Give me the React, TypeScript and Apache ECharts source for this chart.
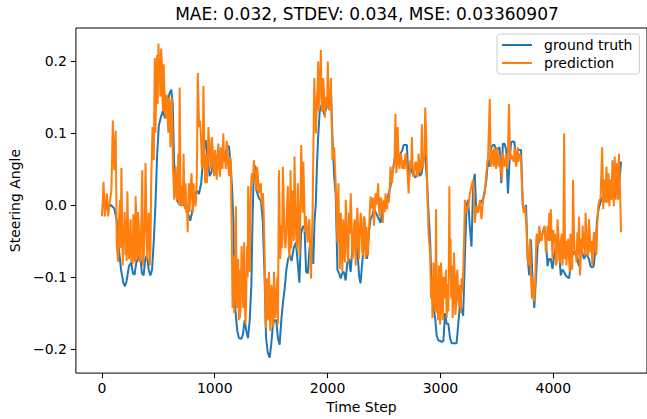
import React, { useEffect, useRef } from "react";
import * as echarts from "echarts";

const chartTitle = "MAE: 0.032, STDEV: 0.034, MSE: 0.03360907";
const xTicks = [0, 1000, 2000, 3000, 4000];
const yTicks = [-0.2, -0.1, 0.0, 0.1, 0.2];
const seriesNames = ["ground truth", "prediction"];

const groundTruth: number[][] = [
  [0,0.0],[40,-0.005],[80,0.0],[110,-0.005],[130,-0.02],[150,-0.06],[170,-0.09],[190,-0.108],[205,-0.113],[220,-0.105],
  [240,-0.085],[260,-0.08],[275,-0.095],[290,-0.097],[305,-0.08],[320,-0.075],[340,-0.07],[355,-0.095],[370,-0.098],[385,-0.075],
  [400,-0.07],[415,-0.09],[430,-0.098],[445,-0.09],[460,-0.05],[475,0.0],[490,0.07],[505,0.11],[520,0.12],[540,0.13],
  [560,0.12],[580,0.14],[600,0.155],[615,0.16],[628,0.14],[640,0.06],[655,0.02],[670,0.005],[690,0.0],[710,0.0],
  [730,0.0],[750,-0.005],[770,-0.015],[783,-0.022],[800,-0.01],[820,0.01],[840,0.02],[860,0.015],[880,0.03],[900,0.07],
  [920,0.09],[940,0.06],[955,0.04],[970,0.045],[990,0.06],[1010,0.06],[1030,0.07],[1050,0.075],[1070,0.065],[1090,0.07],
  [1110,0.08],[1125,0.082],[1140,0.06],[1155,0.02],[1165,-0.02],[1175,-0.12],[1185,-0.15],[1200,-0.175],[1215,-0.185],[1235,-0.186],
  [1250,-0.18],[1265,-0.16],[1280,-0.175],[1295,-0.185],[1310,-0.16],[1325,-0.11],[1335,-0.02],[1345,0.04],[1355,0.055],[1370,0.02],
  [1390,0.01],[1410,0.005],[1425,-0.02],[1440,-0.09],[1455,-0.185],[1470,-0.205],[1487,-0.212],[1500,-0.195],[1516,-0.166],[1530,-0.16],
  [1545,-0.16],[1560,-0.185],[1575,-0.194],[1590,-0.16],[1605,-0.135],[1620,-0.116],[1635,-0.09],[1650,-0.075],[1665,-0.07],[1680,-0.078],
  [1700,-0.06],[1720,-0.052],[1735,-0.08],[1750,-0.108],[1765,-0.04],[1780,-0.03],[1795,-0.03],[1810,-0.093],[1825,-0.095],[1840,-0.06],
  [1853,-0.047],[1873,-0.082],[1885,-0.02],[1895,0.0],[1905,0.05],[1915,0.09],[1930,0.13],[1950,0.14],[1970,0.125],[1990,0.135],
  [2010,0.14],[2029,0.16],[2043,0.094],[2058,0.04],[2072,0.015],[2087,-0.09],[2102,-0.095],[2116,-0.102],[2130,-0.095],[2145,-0.093],
  [2160,-0.105],[2175,-0.08],[2190,-0.075],[2204,-0.093],[2220,-0.06],[2235,-0.03],[2250,-0.05],[2265,-0.065],[2280,-0.1],[2292,-0.109],
  [2307,-0.08],[2322,-0.052],[2336,-0.06],[2350,-0.075],[2365,-0.04],[2380,-0.02],[2395,-0.015],[2410,-0.006],[2425,-0.01],[2440,-0.015],
  [2455,-0.02],[2470,-0.025],[2483,-0.006],[2500,-0.005],[2520,0.003],[2542,0.016],[2557,0.025],[2571,0.04],[2585,0.055],[2600,0.07],
  [2620,0.07],[2640,0.07],[2660,0.075],[2674,0.083],[2690,0.083],[2703,0.083],[2718,0.03],[2733,0.055],[2750,0.045],[2762,0.04],
  [2780,0.038],[2795,0.045],[2806,0.053],[2820,0.04],[2835,0.045],[2850,0.07],[2864,0.07],[2880,0.035],[2894,-0.01],[2909,-0.052],
  [2923,-0.12],[2940,-0.145],[2953,-0.157],[2967,-0.182],[2982,-0.188],[2997,-0.189],[3012,-0.19],[3026,-0.189],[3041,-0.15],[3055,-0.165],
  [3070,-0.165],[3085,-0.185],[3099,-0.192],[3120,-0.192],[3143,-0.192],[3158,-0.165],[3172,-0.139],[3187,-0.145],[3201,-0.154],[3216,-0.075],
  [3231,0.0],[3245,0.007],[3260,-0.03],[3275,-0.058],[3290,0.03],[3304,0.043],[3318,-0.01],[3333,-0.005],[3348,0.0],[3363,0.005],
  [3377,0.007],[3392,0.02],[3407,0.035],[3421,0.062],[3436,0.053],[3451,0.08],[3465,0.083],[3480,0.083],[3495,0.072],[3510,0.078],
  [3524,0.08],[3539,0.03],[3553,0.085],[3568,0.085],[3583,0.076],[3598,0.016],[3612,0.06],[3626,0.087],[3641,0.088],[3656,0.087],
  [3670,0.058],[3685,0.076],[3700,0.076],[3714,0.076],[3729,0.0],[3743,-0.01],[3758,0.0],[3773,-0.075],[3787,-0.098],[3802,-0.048],
  [3817,-0.111],[3831,-0.143],[3846,-0.102],[3861,-0.057],[3875,-0.05],[3890,-0.043],[3905,-0.04],[3920,-0.03],[3934,-0.048],[3949,-0.085],
  [3963,-0.075],[3978,-0.075],[3993,-0.089],[4007,-0.07],[4022,-0.06],[4037,-0.065],[4051,-0.065],[4066,-0.098],[4080,-0.09],[4095,-0.093],
  [4110,-0.098],[4124,-0.1],[4139,-0.102],[4154,-0.085],[4168,-0.07],[4183,-0.065],[4198,-0.065],[4212,-0.075],[4227,-0.085],[4241,-0.057],
  [4256,-0.065],[4271,-0.075],[4286,-0.07],[4300,-0.07],[4315,-0.075],[4329,-0.085],[4344,-0.087],[4358,-0.085],[4373,-0.06],[4388,-0.02],
  [4402,-0.005],[4417,0.003],[4432,0.01],[4446,0.008],[4461,0.01],[4476,0.012],[4490,0.01],[4505,0.012],[4520,0.01],[4534,0.012],
  [4549,0.015],[4563,0.015],[4578,0.025],[4590,0.04],[4600,0.06],
];

// prediction: spikes and envelope points
const predictionPeaks: number[][] = [
  [0,-0.016],[6,-0.002],[15,0.032],[26,-0.016],[44,0.016],[56,-0.016],[67,0.0],[85,0.021],[97,0.117],[109,0.048],
  [123,0.103],[132,-0.057],[144,-0.079],[161,0.007],[173,0.051],[185,-0.084],[196,-0.052],[208,-0.07],[226,0.019],[240,-0.075],
  [249,-0.047],[261,-0.079],[279,-0.013],[290,-0.07],[299,0.012],[314,-0.075],[328,-0.029],[343,-0.075],[358,0.048],[372,-0.07],
  [387,0.058],[402,-0.075],[416,-0.011],[425,-0.084],[437,0.03],[449,0.108],[460,0.062],[469,0.204],[481,0.153],[490,0.208],
  [501,0.224],[513,0.185],[525,0.217],[537,0.149],[548,0.195],[560,0.131],[572,0.153],[584,0.117],[595,0.149],[607,0.08],
  [619,0.149],[630,0.053],[642,0.007],[654,0.053],[666,0.007],[677,0.071],[689,0.163],[701,-0.002],[713,0.026],[724,0.071],
  [736,-0.006],[748,-0.011],[760,-0.038],[771,0.03],[783,0.016],[795,0.044],[806,-0.011],[818,0.012],[830,-0.002],[842,0.048],
  [850,0.183],[862,0.108],[871,0.117],[886,0.053],[900,0.165],[915,0.03],[930,0.03],[944,0.108],[959,0.062],[974,0.094],
  [988,0.053],[1003,0.076],[1018,0.035],[1032,0.085],[1047,0.039],[1062,0.053],[1076,0.099],[1091,0.071],[1106,0.089],[1120,0.053],
  [1135,0.067],[1150,-0.029],[1158,-0.143],[1167,-0.07],[1179,-0.121],[1188,-0.002],[1200,-0.143],[1208,-0.075],[1223,-0.157],[1238,-0.057],
  [1252,-0.143],[1261,-0.052],[1273,-0.166],[1287,-0.057],[1296,0.026],[1311,-0.093],[1320,0.016],[1331,0.044],[1346,0.062],[1361,0.044],
  [1375,0.053],[1390,0.016],[1402,0.026],[1414,0.007],[1428,0.016],[1443,-0.075],[1452,-0.171],[1463,-0.102],[1472,-0.157],[1481,-0.093],
  [1493,-0.175],[1502,-0.111],[1513,-0.148],[1525,-0.093],[1537,-0.157],[1549,-0.121],[1560,-0.166],[1569,0.048],[1581,-0.075],[1590,-0.029],
  [1604,0.053],[1619,-0.047],[1634,-0.038],[1648,0.026],[1663,-0.075],[1672,0.048],[1683,-0.029],[1695,-0.025],[1707,0.067],[1722,-0.043],
  [1736,0.03],[1751,-0.07],[1766,0.083],[1780,-0.011],[1785,0.06],[1800,-0.038],[1809,-0.016],[1823,-0.052],[1838,-0.02],[1853,-0.102],
  [1867,-0.011],[1882,0.176],[1897,0.099],[1905,0.149],[1917,0.199],[1926,0.153],[1941,0.215],[1949,0.131],[1961,0.176],[1976,0.121],
  [1991,0.135],[2002,0.199],[2014,0.131],[2029,0.176],[2043,0.062],[2058,0.08],[2073,0.026],[2087,-0.052],[2096,0.03],[2108,-0.089],
  [2117,-0.011],[2131,-0.093],[2146,-0.038],[2161,0.007],[2175,-0.066],[2190,-0.011],[2205,0.016],[2219,-0.075],[2234,-0.029],[2249,-0.084],
  [2263,-0.004],[2278,-0.075],[2293,-0.011],[2307,-0.066],[2322,-0.016],[2337,-0.075],[2351,-0.047],[2366,-0.038],[2381,0.012],[2395,0.003],
  [2410,-0.029],[2425,0.016],[2439,0.007],[2448,0.03],[2460,-0.016],[2477,0.007],[2489,-0.025],[2501,0.007],[2513,0.016],[2527,-0.006],
  [2542,0.003],[2557,0.053],[2571,0.03],[2586,0.053],[2601,0.126],[2609,0.044],[2621,0.108],[2630,0.058],[2645,0.071],[2659,0.053],
  [2674,0.062],[2689,0.071],[2703,0.053],[2718,0.016],[2733,0.062],[2747,0.094],[2762,0.039],[2777,0.058],[2791,0.039],[2806,0.071],
  [2821,0.044],[2835,0.112],[2850,0.062],[2865,0.135],[2873,0.099],[2885,0.012],[2894,-0.038],[2909,-0.07],[2917,-0.13],[2929,-0.157],
  [2938,-0.08],[2953,-0.148],[2961,-0.006],[2973,-0.13],[2985,-0.084],[2997,-0.166],[3005,-0.08],[3017,-0.148],[3026,-0.102],[3041,-0.13],
  [3055,-0.157],[3070,-0.148],[3079,0.026],[3090,-0.047],[3099,-0.084],[3108,-0.157],[3120,-0.066],[3132,-0.153],[3143,-0.102],[3158,-0.134],
  [3173,-0.111],[3187,-0.102],[3202,-0.093],[3217,0.007],[3231,-0.011],[3246,-0.002],[3261,0.016],[3275,0.026],[3290,0.035],[3305,-0.025],
  [3319,-0.002],[3334,-0.011],[3349,0.007],[3363,-0.02],[3378,0.007],[3393,0.016],[3407,0.044],[3422,0.067],[3437,0.147],[3445,0.053],
  [3460,0.076],[3472,0.053],[3486,0.071],[3501,0.08],[3516,0.053],[3530,0.062],[3545,0.035],[3554,0.071],[3569,0.053],[3583,0.071],
  [3598,0.071],[3607,0.14],[3618,0.062],[3633,0.067],[3644,0.062],[3656,0.08],[3670,0.053],[3685,0.08],[3700,0.071],[3714,0.062],
  [3729,0.007],[3738,-0.011],[3750,-0.002],[3761,-0.029],[3773,-0.075],[3782,-0.084],[3794,-0.047],[3802,-0.102],[3811,-0.13],[3823,-0.121],
  [3832,-0.134],[3840,-0.102],[3849,-0.047],[3861,-0.057],[3876,-0.029],[3890,-0.047],[3905,-0.038],[3920,-0.029],[3934,-0.066],[3949,-0.029],
  [3964,-0.011],[3978,-0.006],[3993,-0.075],[4008,-0.052],[4022,-0.084],[4037,-0.02],[4052,-0.075],[4066,-0.052],[4081,-0.084],[4096,0.099],
  [4104,-0.075],[4116,-0.084],[4131,-0.047],[4145,-0.093],[4160,-0.066],[4175,0.035],[4184,-0.047],[4198,-0.066],[4213,-0.038],[4228,-0.016],
  [4236,-0.098],[4248,-0.047],[4260,-0.029],[4272,-0.038],[4286,-0.011],[4301,-0.07],[4316,-0.02],[4330,-0.066],[4345,-0.084],[4360,-0.038],
  [4374,-0.066],[4389,-0.029],[4398,-0.002],[4409,0.007],[4418,0.007],[4433,0.08],[4442,-0.006],[4453,0.035],[4462,0.003],[4471,0.053],
  [4480,0.003],[4489,0.044],[4497,-0.002],[4506,0.035],[4515,0.007],[4524,0.062],[4536,-0.002],[4544,0.067],[4553,0.007],[4565,0.058],
  [4574,0.007],[4582,0.071],[4594,0.003],[4600,-0.038],
];

// prediction: dense band (upper/lower edges)
const predictionBand: number[][] = [
  [152,-0.02],[167,-0.06],[179,-0.01],[190,-0.03],[202,-0.01],[214,-0.02],[220,-0.078],[232,-0.03],[255,-0.02],[267,-0.04],
  [273,-0.082],[284,-0.035],[295,-0.08],[306,-0.02],[320,-0.01],[335,-0.08],[350,-0.02],[365,-0.085],[380,-0.03],[395,-0.02],
  [409,-0.03],[431,-0.06],
  [475,0.1],[486,0.19],[495,0.14],[507,0.2],[519,0.15],[531,0.2],[543,0.13],[554,0.16],[566,0.12],[578,0.15],
  [589,0.1],[601,0.14],[613,0.1],[625,0.11],[636,0.03],
  [660,0.02],[672,0.03],[683,0.0],[695,0.05],[707,0.02],[718,0.0],[730,0.02],[742,0.03],[754,0.0],[765,0.0],
  [777,-0.01],[789,0.03],[800,0.01],[812,0.03],[824,0.01],[836,0.01],
  [879,0.09],[893,0.05],[907,0.09],[922,0.07],[937,0.05],[951,0.09],[966,0.05],[981,0.08],[995,0.04],[1010,0.05],
  [1025,0.07],[1040,0.05],[1054,0.08],[1069,0.05],[1084,0.06],[1098,0.05],[1113,0.08],[1128,0.04],[1142,0.06],
  [1162,-0.1],[1173,-0.15],[1184,-0.06],[1194,-0.12],[1204,-0.1],[1214,-0.16],[1218,-0.09],[1230,-0.14],[1245,-0.09],[1256,-0.1],
  [1266,-0.13],[1280,-0.12],[1292,-0.1],[1305,-0.03],
  [1315,-0.02],[1326,0.04],[1338,0.03],[1353,0.05],[1368,0.02],[1383,0.04],[1396,0.02],[1408,0.03],[1421,0.0],[1435,-0.02],
  [1447,-0.13],[1457,-0.12],[1467,-0.16],[1477,-0.12],[1487,-0.15],[1497,-0.16],[1508,-0.12],[1519,-0.17],[1531,-0.12],[1543,-0.14],
  [1555,-0.1],
  [1597,-0.06],[1612,0.0],[1626,-0.06],[1641,0.0],[1656,-0.06],[1678,-0.06],[1689,0.02],[1701,-0.05],[1714,0.0],[1729,-0.06],
  [1744,-0.02],[1758,-0.02],
  [1889,0.13],[1911,0.16],[1921,0.13],[1933,0.17],[1945,0.15],[1955,0.13],[1968,0.16],[1983,0.15],[1996,0.14],[2008,0.15],
  [2021,0.14],[2036,0.12],
  [2102,-0.04],[2112,-0.06],[2124,-0.06],[2138,-0.02],[2153,-0.08],[2168,-0.02],[2183,-0.08],[2197,-0.04],[2212,-0.02],[2226,-0.07],
  [2241,-0.02],[2256,-0.05],[2270,-0.03],[2285,-0.04],[2300,-0.02],[2314,-0.07],[2330,-0.02],[2344,-0.03],[2358,-0.07],[2373,-0.01],
  [2388,-0.005],[2403,0.01],[2417,-0.01],[2432,0.0],[2454,0.0],[2470,0.01],[2483,0.0],[2495,0.0],[2507,-0.01],[2520,0.0],
  [2535,0.01],[2550,0.02],[2564,0.04],[2579,0.05],[2593,0.06],
  [2616,0.06],[2637,0.05],[2652,0.07],[2666,0.05],[2681,0.05],[2696,0.07],[2710,0.04],[2725,0.04],[2740,0.05],[2754,0.05],
  [2770,0.05],[2784,0.06],[2799,0.04],[2813,0.06],[2828,0.05],[2843,0.05],[2858,0.07],
  [2913,-0.1],[2923,-0.1],[2933,-0.13],[2945,-0.1],[2957,-0.11],[2967,-0.15],[2979,-0.16],[2991,-0.1],[3001,-0.14],[3011,-0.1],
  [3021,-0.16],[3033,-0.1],[3048,-0.09],[3062,-0.11],[3074,-0.09],[3085,-0.1],[3095,-0.13],[3104,-0.1],[3114,-0.13],[3126,-0.1],
  [3138,-0.14],[3150,-0.09],[3165,-0.14],[3180,-0.15],[3195,-0.12],[3209,-0.05],
  [3452,0.06],[3466,0.06],[3479,0.08],[3493,0.05],[3508,0.07],[3523,0.07],[3537,0.05],[3561,0.06],[3576,0.06],[3590,0.05],
  [3625,0.07],[3651,0.06],[3663,0.07],[3677,0.06],[3692,0.06],[3707,0.07],[3721,0.03],
  [3767,-0.05],[3788,-0.07],[3817,-0.1],[3855,-0.04],[3869,-0.05],[3883,-0.04],[3897,-0.05],[3912,-0.04],[3927,-0.04],[3941,-0.05],
  [3956,-0.05],[3971,-0.05],[3985,-0.04],
  [4000,-0.035],[4015,-0.04],[4030,-0.08],[4045,-0.04],[4059,-0.08],[4074,-0.04],[4088,-0.07],[4110,-0.05],[4124,-0.06],[4138,-0.07],
  [4152,-0.04],[4167,-0.09],[4191,-0.07],[4206,-0.08],[4220,-0.07],[4242,-0.08],[4254,-0.07],[4266,-0.06],[4279,-0.07],[4294,-0.04],
  [4308,-0.07],[4323,-0.04],[4338,-0.05],[4352,-0.06],[4367,-0.04],[4382,-0.07],
];

const FONT = "DejaVu Sans";

function fmtY(v: number): string {
  const s = Math.abs(v).toFixed(1);
  return v < -1e-9 ? "\u2212" + s : s;
}

export default function App() {
  const ref = useRef<HTMLDivElement>(null);
  useEffect(() => {
    if (!ref.current) return;
    const chart = echarts.init(ref.current, null, { renderer: "svg" });
    const prediction = [...predictionPeaks, ...predictionBand].sort((a, b) => a[0] - b[0]);
    chart.setOption({
      animation: false,
      backgroundColor: "#fff",
      textStyle: { fontFamily: FONT },
      title: {
        text: chartTitle,
        left: 362,
        top: 0,
        textAlign: "center",
        textStyle: { fontFamily: FONT, fontSize: 17, fontWeight: "normal", color: "#000" },
      },
      legend: {
        data: seriesNames.map((n) => ({ name: n, icon: "rect" })),
        orient: "vertical",
        left: 497,
        top: 34,
        itemWidth: 30,
        itemHeight: 2,
        itemGap: 2,
        padding: [3, 7, 3, 5],
        backgroundColor: "rgba(255,255,255,0.8)",
        borderColor: "#cccccc",
        borderWidth: 1,
        borderRadius: 3,
        textStyle: { fontFamily: FONT, fontSize: 14, color: "#000", padding: [0, 0, 0, 7], lineHeight: 16 },
      },
      grid: {
        left: 75,
        top: 28,
        right: -3,
        bottom: 42,
        show: true,
        borderColor: "#000",
        borderWidth: 1,
        backgroundColor: "transparent",
      },
      xAxis: {
        type: "value",
        min: -230,
        max: 4830,
        name: "Time Step",
        nameLocation: "middle",
        nameGap: 26,
        nameTextStyle: { fontFamily: FONT, fontSize: 14, color: "#000" },
        axisLine: { show: false, onZero: false },
        splitLine: { show: false },
        axisTick: { show: true, length: 5, customValues: xTicks, lineStyle: { color: "#000" } },
        axisLabel: {
          customValues: xTicks,
          margin: 8,
          fontFamily: FONT,
          fontSize: 14,
          color: "#000",
          formatter: (v: number) => String(Math.round(v)),
        },
      },
      yAxis: {
        type: "value",
        min: -0.2335,
        max: 0.2455,
        name: "Steering Angle",
        nameLocation: "middle",
        nameRotate: 90,
        nameGap: 52,
        nameTextStyle: { fontFamily: FONT, fontSize: 14, color: "#000" },
        axisLine: { show: false, onZero: false },
        splitLine: { show: false },
        axisTick: { show: true, length: 5, customValues: yTicks, lineStyle: { color: "#000" } },
        axisLabel: {
          customValues: yTicks,
          margin: 9,
          fontFamily: FONT,
          fontSize: 14,
          color: "#000",
          formatter: (v: number) => fmtY(v),
        },
      },
      series: [
        {
          name: seriesNames[0],
          type: "line",
          data: groundTruth,
          showSymbol: false,
          symbol: "none",
          color: "#1f77b4",
          lineStyle: { width: 2, color: "#1f77b4" },
          z: 2,
        },
        {
          name: seriesNames[1],
          type: "line",
          data: prediction,
          showSymbol: false,
          symbol: "none",
          color: "#ff7f0e",
          lineStyle: { width: 2, color: "#ff7f0e" },
          z: 3,
        },
      ],
    });
    return () => chart.dispose();
  }, []);
  return (
    <div
      ref={ref}
      style={{ position: "absolute", left: 0, top: 0, width: 647, height: 419 }}
    />
  );
}
